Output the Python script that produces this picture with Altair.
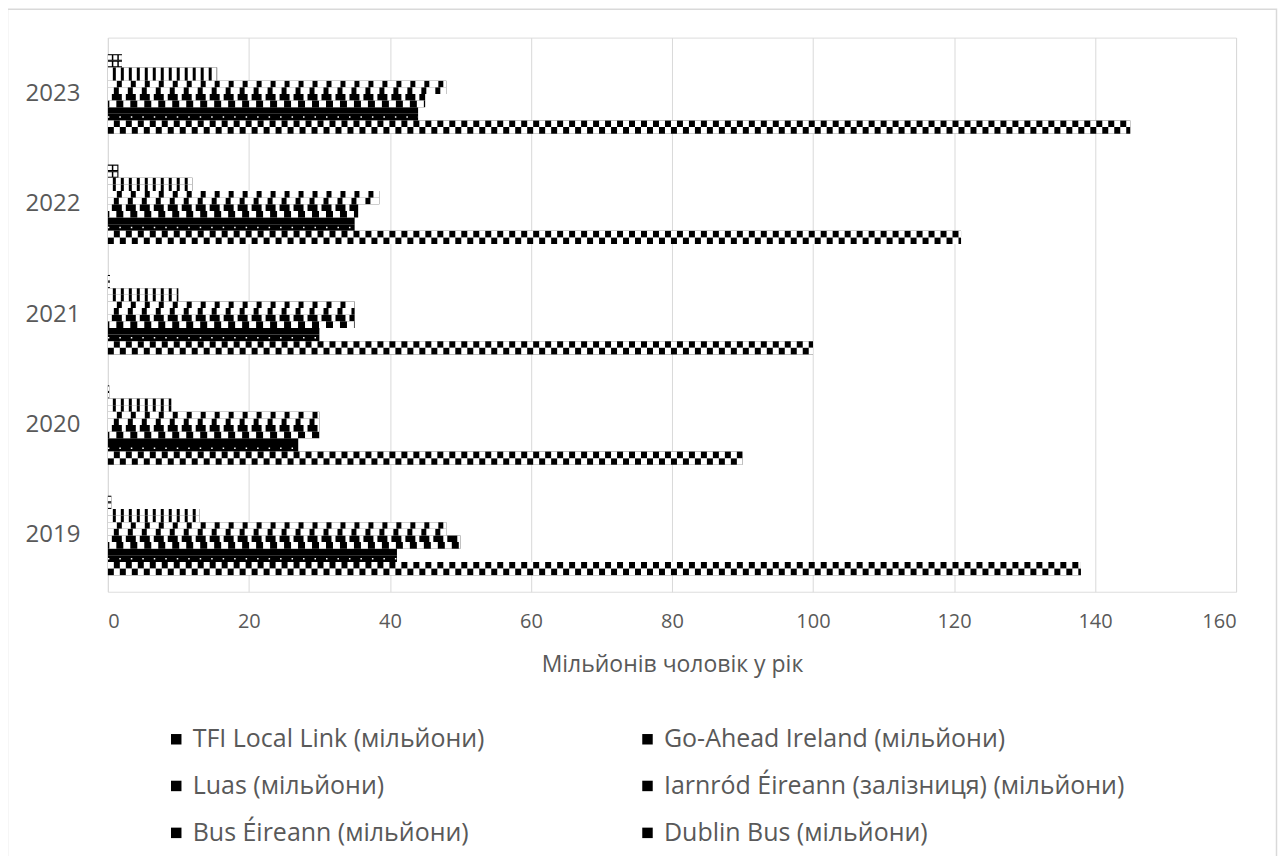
import altair as alt
import pandas as pd

years = ["2019", "2020", "2021", "2022", "2023"]
series = [
    "TFI Local Link (мільйони)",
    "Go-Ahead Ireland (мільйони)",
    "Luas (мільйони)",
    "Iarnród Éireann (залізниця) (мільйони)",
    "Bus Éireann (мільйони)",
    "Dublin Bus (мільйони)",
]
tfi = [0.5, 0.2, 0.3, 1.5, 2.0]
goahead = [13, 9, 10, 12, 15.5]
luas = [48, 30, 35, 38.5, 48]
irish_rail = [50, 30, 35, 35.5, 45]
bus_eireann = [41, 27, 30, 35, 44]
dublin_bus = [138, 90, 100, 121, 145]
values = [tfi, goahead, luas, irish_rail, bus_eireann, dublin_bus]

year_order = years[::-1]
# legend is filled column by column: reorder so it reads row by row like the original
legend_order = [series[0], series[2], series[4], series[1], series[3], series[5]]
short = ["tfi", "goa", "luas", "rail", "be", "db"]
slot_order = [f"{s}_{h}" for s in short for h in ("a", "b")]

rows = []
for s, key, vals in zip(series, short, values):
    for y, v in zip(years, vals):
        for h in ("a", "b"):
            rows.append({"year": y, "series": s, "key": key, "slot": f"{key}_{h}", "half": h,
                         "value": v, "zero": 0})
df = pd.DataFrame(rows)

FONT = "Open Sans"
GREY = "#595959"
W, H = 1130, 555

y_enc = alt.Y("year:N", sort=year_order, title=None,
              scale=alt.Scale(paddingInner=0.28, paddingOuter=0.15),
              axis=alt.Axis(labelFontSize=24, labelColor=GREY, labelFont=FONT,
                            domain=False, ticks=False, labelPadding=28, grid=False))
yoff = alt.YOffset("slot:N", sort=slot_order, scale=alt.Scale(domain=slot_order, paddingInner=0, paddingOuter=0))
x_enc = alt.X("value:Q", title="Мільйонів чоловік у рік",
              scale=alt.Scale(domain=[0, 160], nice=False),
              axis=alt.Axis(values=list(range(0, 161, 20)), labelFontSize=20, labelColor=GREY,
                            labelFont=FONT, titleFont=FONT, titleFontSize=23, titleColor=GREY,
                            titleFontWeight="normal", domain=False, ticks=False, labelPadding=20,
                            titlePadding=22, gridColor="#d9d9d9", gridWidth=1))

bars = alt.Chart(df).mark_bar(color="black").encode(
    x=x_enc,
    y=y_enc,
    yOffset=yoff,
    color=alt.Color("series:N", sort=legend_order,
                    scale=alt.Scale(domain=legend_order, range=["#000"] * 6),
                    legend=alt.Legend(title=None, orient="none", legendX=56, legendY=690,
                                      columns=2, columnPadding=150, rowPadding=21,
                                      symbolType="square", symbolSize=110, symbolStrokeWidth=0,
                                      labelFontSize=25, labelFont=FONT, labelColor=GREY,
                                      labelLimit=700, labelOffset=4)),
)

SLOT_H = 6.7

def overlay(key, half, dash, offset=0, width=SLOT_H):
    return alt.Chart(df).transform_filter(
        (alt.datum.key == key) & (alt.datum.half == half)
    ).mark_rule(color="white", strokeWidth=width, strokeDash=dash, strokeDashOffset=offset,
                strokeCap="butt").encode(
        x=alt.X("zero:Q"),
        x2=alt.X2("value"),
        y=alt.Y("year:N", sort=year_order),
        yOffset=alt.YOffset("slot:N", sort=slot_order),
    )

layers = [
    bars,
    overlay("db", "a", [6, 6], 0),
    overlay("db", "b", [6, 6], 6),
    overlay("be", "b", [1.5, 10], 0, 1.5),
    overlay("rail", "a", [4, 10], 0),
    overlay("rail", "b", [7, 7], -1.5),
    overlay("luas", "a", [9, 5], 0),
    overlay("luas", "b", [9, 5], 3),
    overlay("goa", "a", [5, 3], 0),
    overlay("goa", "b", [5, 3], 0),
    overlay("tfi", "a", [4, 1.5], 0, 4.5),
    overlay("tfi", "b", [4, 1.5], 0, 4.5),
]

border = alt.Chart(pd.DataFrame({"k": [0]})).mark_rect(
    fill="transparent", stroke="#d9d9d9", strokeWidth=1.5
).encode(
    x=alt.value(-100.5), x2=alt.value(W + 40.5), y=alt.value(-28.5), y2=alt.value(H + 300)
)

chart = alt.layer(*layers, border).properties(
    width=W, height=H,
    padding={"left": 100, "top": 29, "right": 42, "bottom": 264},
    autosize=alt.AutoSizeParams(type="none"),
).configure_view(stroke=None).configure(background="white")

chart.save("out.html", embed_options={"renderer": "svg", "actions": False})
